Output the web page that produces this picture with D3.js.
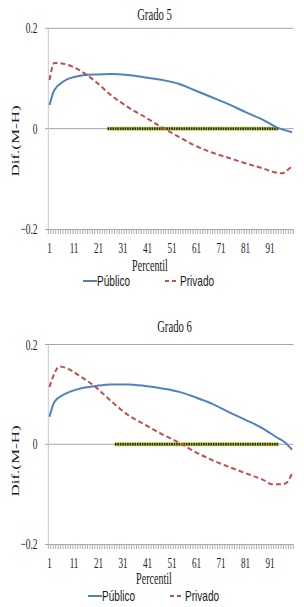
<!DOCTYPE html>
<html>
<head>
<meta charset="utf-8">
<script src="https://cdn.jsdelivr.net/npm/d3@7"></script>
<style>
  html, body { margin: 0; padding: 0; background: #fff; }
  svg { display: block; }
  .serif { font-family: "Liberation Serif", "Times New Roman", serif; fill: #1a1a1a; }
  .sans { font-family: "Liberation Sans", Arial, sans-serif; fill: #1a1a1a; }
</style>
</head>
<body>
<svg id="chart" width="304" height="607"></svg>
<script>
// percentiles on the x axis (category axis, 1..100)
const percentiles = d3.range(1, 101);
const xTickLabels = [1, 11, 21, 31, 41, 51, 61, 71, 81, 91];
const yTicks = [0.2, 0, -0.2];

// Grado 5
const g5PubP = [1, 3, 7, 13, 20, 26, 33, 40, 47, 54, 60, 67, 74, 81, 88, 94, 100];
const g5Pub  = [0.047, 0.077, 0.095, 0.105, 0.108, 0.109, 0.107, 0.102, 0.097, 0.089, 0.077, 0.063, 0.049, 0.033, 0.018, 0.002, -0.007];
const g5PriP = [1, 3, 6, 13, 20, 26, 33, 40, 47, 54, 60, 67, 74, 81, 88, 93, 96, 98, 100];
const g5Pri  = [0.097, 0.131, 0.130, 0.117, 0.093, 0.067, 0.043, 0.023, 0.002, -0.017, -0.033, -0.047, -0.058, -0.069, -0.079, -0.087, -0.089, -0.083, -0.075];
const g5Sig  = [25, 94]; // significant range (drawn on the zero line)

// Grado 6
const g6PubP = [1, 3, 7, 13, 20, 26, 33, 40, 47, 54, 60, 67, 74, 81, 88, 94, 97, 100];
const g6Pub  = [0.055, 0.085, 0.100, 0.111, 0.117, 0.120, 0.120, 0.117, 0.112, 0.105, 0.095, 0.082, 0.065, 0.049, 0.032, 0.013, 0.004, -0.011];
const g6PriP = [1, 3, 5, 9, 13, 20, 26, 33, 40, 47, 54, 60, 67, 74, 81, 88, 92, 96, 98, 100];
const g6Pri  = [0.115, 0.142, 0.156, 0.150, 0.138, 0.114, 0.087, 0.059, 0.039, 0.020, 0.003, -0.014, -0.031, -0.045, -0.058, -0.071, -0.080, -0.080, -0.076, -0.058];
const g6Sig  = [28, 94];

const svg = d3.select("#chart");
const SX = 0.63; // the picture's text is horizontally squeezed

function txt(g, x, y, s, cls, size, anchor, sx) {
  return g.append("text")
    .attr("class", cls)
    .attr("transform", `translate(${x},${y}) scale(${sx || SX},1)`)
    .attr("text-anchor", anchor || "middle")
    .style("font-size", size + "px")
    .text(s);
}

function drawPanel(p) {
  const g = svg.append("g");
  const x = d3.scaleBand().domain(percentiles).range([48.3, 293.3]);
  const xc = d => x(d) + x.bandwidth() / 2;
  const y = d3.scaleLinear().domain([-0.2, 0.2]).range([p.bottom, p.top]);

  // title
  txt(g, p.titleX, p.titleY, p.title, "serif", 17);

  // gridlines at 0.2 and 0
  [0.2, 0].forEach(v => {
    g.append("line")
      .attr("x1", 45).attr("x2", 293.5)
      .attr("y1", y(v)).attr("y2", y(v))
      .attr("stroke", "#a6a6a6").attr("stroke-width", 1);
  });

  // y axis line
  g.append("line")
    .attr("x1", 48.3).attr("x2", 48.3)
    .attr("y1", y(0.2)).attr("y2", y(-0.2))
    .attr("stroke", "#c8c8c8").attr("stroke-width", 1);

  // x axis with a tick at every category boundary
  const xAxis = d3.axisBottom(x).tickSize(5).tickFormat("");
  const ax = g.append("g").attr("transform", `translate(0,${y(-0.2)})`).call(xAxis);
  ax.select(".domain").attr("stroke", "#a6a6a6").attr("d", `M45,0.5H293.5`);
  ax.selectAll(".tick line").attr("stroke", "#b0b0b0")
    .attr("transform", `translate(${-x.bandwidth() / 2},0)`);
  g.append("line")
    .attr("x1", x.range()[1]).attr("x2", x.range()[1])
    .attr("y1", y(-0.2)).attr("y2", y(-0.2) + 5)
    .attr("stroke", "#b0b0b0");

  // y tick labels
  yTicks.forEach(v => {
    txt(g, 37.5, y(v) + 5, v === 0 ? "0" : d3.format(".1f")(v), "serif", 15, "end");
  });

  // x tick labels
  xTickLabels.forEach(v => {
    txt(g, xc(v), p.bottom + 23.5, String(v), "serif", 14.5);
  });

  // axis titles
  txt(g, p.xTitleX, p.xTitleY, "Percentil", "serif", 16);
  g.append("text")
    .attr("class", "serif")
    .attr("transform", `translate(18.5,${p.yTitleY}) rotate(-90) scale(1,${SX})`)
    .attr("text-anchor", "middle")
    .style("font-size", "17px")
    .text("Dif.(M-H)");

  // significance band on the zero line
  const sig = d3.range(p.sig[0], p.sig[1] + 1);
  g.append("line")
    .attr("x1", xc(p.sig[0]) - 1).attr("x2", xc(p.sig[1]) + 1)
    .attr("y1", y(0)).attr("y2", y(0))
    .attr("stroke", "#bcd64a").attr("stroke-width", 4);
  g.selectAll(".sigdot").data(sig).enter().append("rect")
    .attr("x", d => xc(d) - 0.8).attr("y", y(0) - 1.3)
    .attr("width", 1.6).attr("height", 2.6)
    .attr("fill", "#2b2b1a");

  const line = d3.line()
    .x(d => xc(d[0]))
    .y(d => y(d[1]))
    .curve(d3.curveMonotoneX);

  // Público
  g.append("path")
    .datum(d3.zip(p.pubP, p.pub))
    .attr("d", line)
    .attr("fill", "none").attr("stroke", "#4f81bd").attr("stroke-width", 2);

  // Privado
  g.append("path")
    .datum(d3.zip(p.priP, p.pri))
    .attr("d", line)
    .attr("fill", "none").attr("stroke", "#c0504d").attr("stroke-width", 2)
    .attr("stroke-dasharray", "5,3");

  // legend
  g.append("line")
    .attr("x1", p.legX).attr("x2", p.legX + 14)
    .attr("y1", p.legY).attr("y2", p.legY)
    .attr("stroke", "#4f81bd").attr("stroke-width", 2);
  txt(g, p.legX + 14, p.legY + 5, "Público", "sans", 14, "start", 0.72);
  g.append("line")
    .attr("x1", p.legX + 82).attr("x2", p.legX + 96)
    .attr("y1", p.legY).attr("y2", p.legY)
    .attr("stroke", "#c0504d").attr("stroke-width", 2)
    .attr("stroke-dasharray", "4,3");
  txt(g, p.legX + 97, p.legY + 5, "Privado", "sans", 14, "start", 0.72);
}

drawPanel({
  title: "Grado 5", titleX: 154.5, titleY: 20,
  top: 28.3, bottom: 229,
  xTitleX: 150, xTitleY: 270.5, yTitleY: 141,
  legX: 83, legY: 281,
  pubP: g5PubP, pub: g5Pub, priP: g5PriP, pri: g5Pri, sig: g5Sig
});

drawPanel({
  title: "Grado 6", titleX: 174.5, titleY: 332,
  top: 344.5, bottom: 544,
  xTitleX: 154, xTitleY: 584, yTitleY: 461,
  legX: 88, legY: 596,
  pubP: g6PubP, pub: g6Pub, priP: g6PriP, pri: g6Pri, sig: g6Sig
});
</script>
</body>
</html>
